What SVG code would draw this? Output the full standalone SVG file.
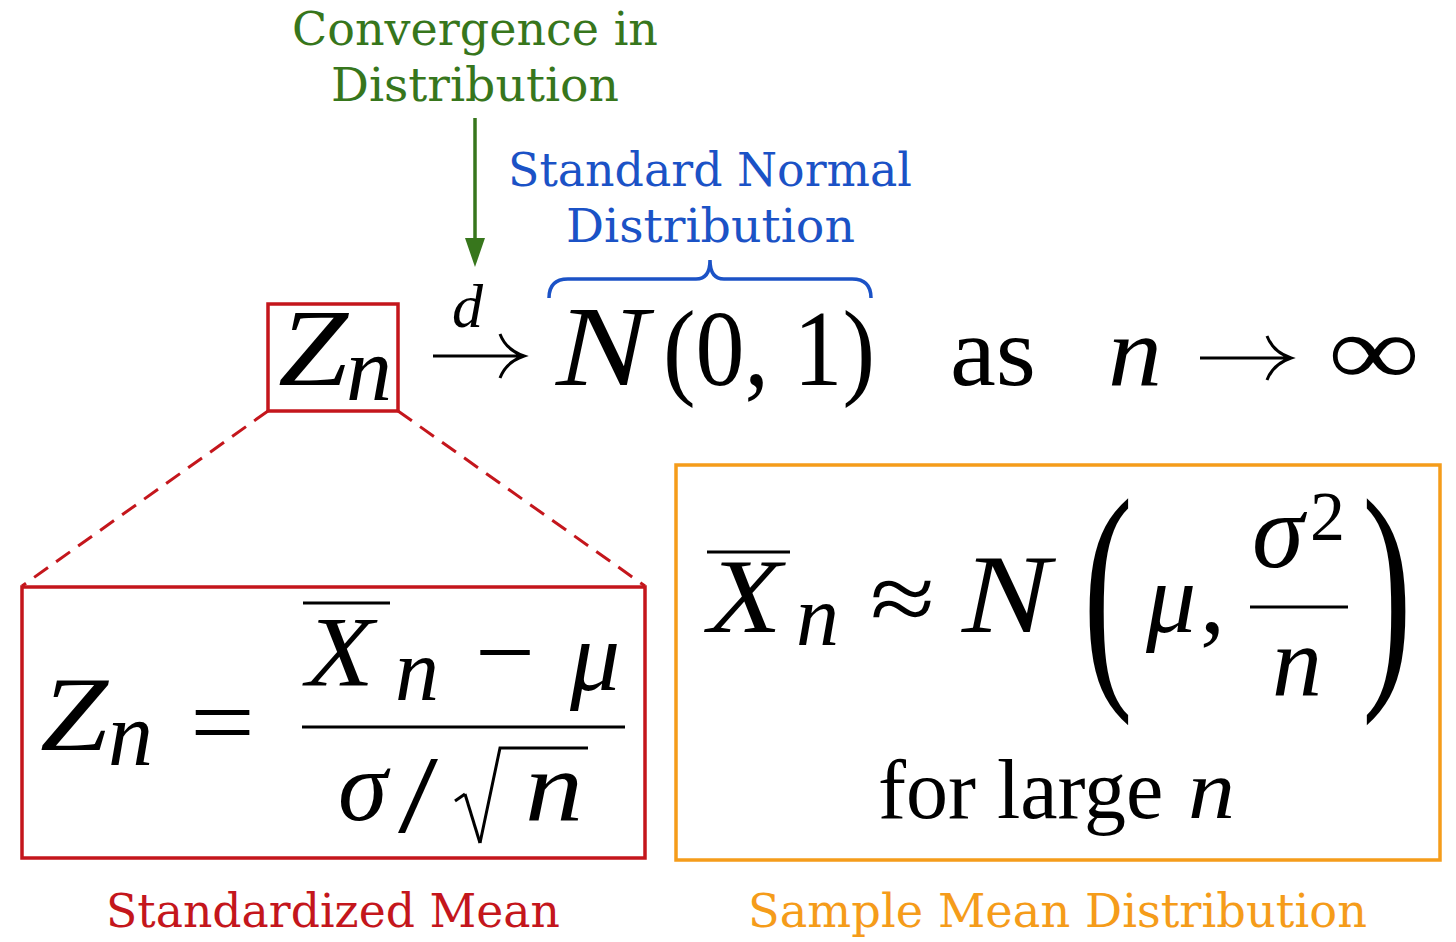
<svg xmlns="http://www.w3.org/2000/svg" width="1456" height="942" viewBox="0 0 1456 942">
<style>
.lbl{font-family:"DejaVu Serif","Liberation Serif",serif;font-size:46px;}
.m{font-family:"Liberation Serif","DejaVu Serif",serif;fill:#000;}
.mi{font-family:"Liberation Serif","DejaVu Serif",serif;font-style:italic;fill:#000;}
.green{fill:#37761c;}
.blue{fill:#1b52c6;}
.red{fill:#c4161c;}
.orange{fill:#f59c1a;}
.box{fill:none;stroke-width:3.5;}
.ln{stroke:#000;stroke-width:3;fill:none;}
</style>
<rect width="1456" height="942" fill="#fff"/>

<g id="label-convergence">
<text class="lbl green" x="292" y="45" textLength="366" lengthAdjust="spacingAndGlyphs">Convergence in</text>
<text class="lbl green" x="331" y="101" textLength="288" lengthAdjust="spacingAndGlyphs">Distribution</text>
</g>

<g id="label-standard-normal">
<text class="lbl blue" x="508" y="186" textLength="404" lengthAdjust="spacingAndGlyphs">Standard Normal</text>
<text class="lbl blue" x="566" y="242" textLength="289" lengthAdjust="spacingAndGlyphs">Distribution</text>
</g>

<g id="connectors">
<line x1="475" y1="118" x2="475" y2="238" stroke="#37761c" stroke-width="3.5"/>
<path d="M465,238 L485,238 L475,267 Z" fill="#37761c"/>
<path d="M549,298 Q549,279 568,279 L696,279 Q710,279 710,260 Q710,279 724,279 L852,279 Q871,279 871,298" fill="none" stroke="#1b52c6" stroke-width="3.5"/>
<line x1="268" y1="411" x2="22" y2="586" stroke="#c4161c" stroke-width="3" stroke-dasharray="17,10"/>
<line x1="398" y1="411" x2="645" y2="586" stroke="#c4161c" stroke-width="3" stroke-dasharray="17,10"/>
</g>

<g id="top-formula">
<rect class="box" x="268" y="304" width="130" height="107" stroke="#c4161c"/>
<text class="mi" x="278" y="385" font-size="110" textLength="70" lengthAdjust="spacingAndGlyphs">Z</text>
<text class="mi" x="346" y="400" font-size="92">n</text>
<text class="mi" x="452" y="327" font-size="62">d</text>
<path d="M433,356 L522,356 M500,334 Q506,350 524,356 Q506,362 500,378" class="ln" stroke-width="4"/>
<text class="mi" x="556" y="385" font-size="115" textLength="92" lengthAdjust="spacingAndGlyphs">N</text>
<text class="m" x="663" y="385" font-size="108" textLength="212" lengthAdjust="spacingAndGlyphs">(0, 1)</text>
<text class="m" x="950" y="385" font-size="100" textLength="86" lengthAdjust="spacingAndGlyphs">as</text>
<text class="mi" x="1108" y="385" font-size="100" textLength="54" lengthAdjust="spacingAndGlyphs">n</text>
<path d="M1200,358 L1289,358 M1267,336 Q1273,352 1291,358 Q1273,364 1267,380" class="ln" stroke-width="4"/>
<text class="m" x="1328" y="385" font-size="100" textLength="92" lengthAdjust="spacingAndGlyphs">∞</text>
</g>

<g id="standardized-box">
<rect class="box" x="22" y="587" width="623" height="271" stroke="#c4161c"/>
<text class="mi" x="40" y="750" font-size="105" textLength="68" lengthAdjust="spacingAndGlyphs">Z</text>
<text class="mi" x="108" y="765" font-size="90">n</text>
<text class="m" x="190" y="756" font-size="100" textLength="65" lengthAdjust="spacingAndGlyphs">=</text>
<line class="ln" x1="303" y1="603" x2="390" y2="603"/>
<text class="mi" x="306" y="685" font-size="100" textLength="68" lengthAdjust="spacingAndGlyphs">X</text>
<text class="mi" x="395" y="700" font-size="88">n</text>
<text class="m" x="475" y="686" font-size="100" textLength="60" lengthAdjust="spacingAndGlyphs">−</text>
<text class="mi" x="570" y="690" font-size="100">μ</text>
<line class="ln" x1="302" y1="727" x2="625" y2="727" stroke-width="3.5"/>
<text class="mi" x="338" y="820" font-size="100">σ</text>
<text class="m" x="398" y="832" font-size="110" textLength="40" lengthAdjust="spacingAndGlyphs">/</text>
<path d="M455,801 L465,794" class="ln" stroke-width="2.5"/>
<path d="M465,794 L480,843" class="ln" stroke-width="5"/>
<path d="M480,843 L500,748 L588,748" class="ln" stroke-width="3"/>
<text class="mi" x="525" y="820" font-size="100" textLength="58" lengthAdjust="spacingAndGlyphs">n</text>
</g>

<g id="sample-mean-box">
<rect class="box" x="676" y="465" width="764" height="395" stroke="#f59c1a"/>
<line class="ln" x1="707" y1="552" x2="790" y2="552"/>
<text class="mi" x="708" y="632" font-size="105" textLength="74" lengthAdjust="spacingAndGlyphs">X</text>
<text class="mi" x="796" y="645" font-size="86">n</text>
<text class="m" x="870" y="632" font-size="100" textLength="65" lengthAdjust="spacingAndGlyphs">≈</text>
<text class="mi" x="962" y="632" font-size="112" textLength="88" lengthAdjust="spacingAndGlyphs">N</text>
<text class="m" transform="translate(1083,672) scale(0.6,1)" font-size="250">(</text>
<text class="mi" x="1146" y="632" font-size="100">μ</text>
<text class="m" x="1200" y="632" font-size="100">,</text>
<text class="mi" x="1252" y="567" font-size="105">σ</text>
<text class="m" x="1310" y="540" font-size="70">2</text>
<line class="ln" x1="1250" y1="607" x2="1348" y2="607"/>
<text class="mi" x="1272" y="695" font-size="100">n</text>
<text class="m" transform="translate(1362,672) scale(0.6,1)" font-size="250">)</text>
<text class="m" x="878" y="818" font-size="84">for large</text>
<text class="mi" x="1188" y="818" font-size="84" textLength="47" lengthAdjust="spacingAndGlyphs">n</text>
</g>

<g id="label-standardized">
<text class="lbl red" x="106" y="927" textLength="454" lengthAdjust="spacingAndGlyphs">Standardized Mean</text>
</g>
<g id="label-sample-mean">
<text class="lbl orange" x="748" y="927" textLength="619" lengthAdjust="spacingAndGlyphs">Sample Mean Distribution</text>
</g>
</svg>
